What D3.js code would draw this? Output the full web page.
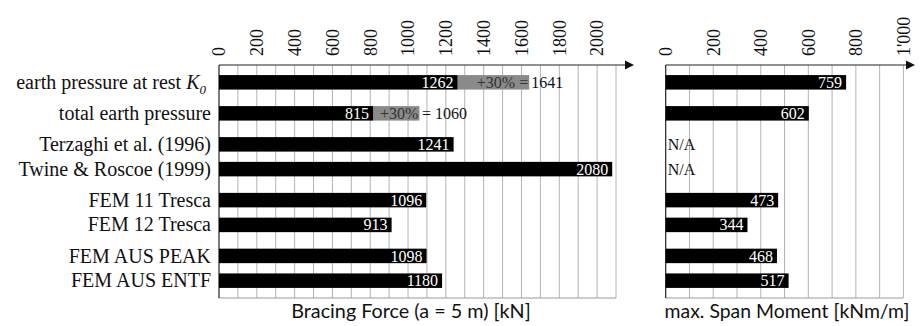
<!DOCTYPE html>
<html>
<head>
<meta charset="utf-8">
<script src="https://cdn.jsdelivr.net/npm/d3@7"></script>
<style>
  html, body { margin: 0; padding: 0; background: #fff; }
  svg { display: block; }
</style>
</head>
<body>
<svg id="chart" width="923" height="326"></svg>
<script>
// Categories, in drawing order, and the group each belongs to (groups sit slightly apart)
const categories = [
  "earth pressure at rest",
  "total earth pressure",
  "Terzaghi et al. (1996)",
  "Twine & Roscoe (1999)",
  "FEM 11 Tresca",
  "FEM 12 Tresca",
  "FEM AUS PEAK",
  "FEM AUS ENTF"
];
const categoryGroup = [0, 1, 2, 2, 3, 3, 4, 4];

// Bracing force [kN] and the value with the +30% allowance added
const bracingForce = [1262, 815, 1241, 2080, 1096, 913, 1098, 1180];
const bracingWithAllowance = [1641, 1060, null, null, null, null, null, null];
const allowanceLabel = "+30%";

// Maximum span moment [kNm/m]; null means not available
const spanMoment = [759, 602, null, null, 473, 344, 468, 517];

// Axis ticks
const forceTicks = [0, 200, 400, 600, 800, 1000, 1200, 1400, 1600, 1800, 2000];
const forceTickLabels = ["0", "200", "400", "600", "800", "1000", "1200", "1400", "1600", "1800", "2000"];
const momentTicks = [0, 200, 400, 600, 800, 1000];
const momentTickLabels = ["0", "200", "400", "600", "800", "1'000"];

const forceTitle = "Bracing Force (a = 5 m) [kN]";
const momentTitle = "max. Span Moment [kNm/m]";

const serif = "'Liberation Serif', 'Times New Roman', serif";
const sans = "Lato, 'Open Sans', sans-serif";

const svg = d3.select("#chart");

// Vertical layout: one slot per bar plus a small extra gap between groups
const groupGap = 0.2525;
const slot = categories.map((c, i) => i + categoryGroup[i] * groupGap);
const plotTop = 65, plotBottom = 298;
const y = d3.scaleLinear()
  .domain([-0.7, d3.max(slot) + 0.7])
  .range([plotTop, plotBottom]);
const barH = 14.5;

const xForce = d3.scaleLinear().domain([0, 2100]).range([219, 616]);
const xMoment = d3.scaleLinear().domain([0, 1000]).range([665.7, 903.4]);

function drawFrame(x, gridStep, tickVals, tickLabels, arrowTip) {
  const [d0, d1] = x.domain();
  const g = svg.append("g");
  // vertical grid
  g.selectAll("line.grid")
    .data(d3.range(d0 + gridStep, d1 + 0.001, gridStep))
    .join("line")
    .attr("x1", d => x(d)).attr("x2", d => x(d))
    .attr("y1", plotTop).attr("y2", plotBottom)
    .attr("stroke", "#b4b4b4").attr("stroke-width", 1);
  // bottom edge
  g.append("line")
    .attr("x1", x(d0)).attr("x2", x(d1))
    .attr("y1", plotBottom).attr("y2", plotBottom)
    .attr("stroke", "#9a9a9a").attr("stroke-width", 1);
  // zero line
  g.append("line")
    .attr("x1", x(d0)).attr("x2", x(d0))
    .attr("y1", plotTop).attr("y2", plotBottom)
    .attr("stroke", "#222").attr("stroke-width", 1.2);
  // top axis with arrow head
  g.append("line")
    .attr("x1", x(d0)).attr("x2", arrowTip - 7)
    .attr("y1", plotTop).attr("y2", plotTop)
    .attr("stroke", "#222").attr("stroke-width", 1.2);
  g.append("path")
    .attr("d", `M${arrowTip},${plotTop} L${arrowTip - 9},${plotTop - 4.5} L${arrowTip - 9},${plotTop + 4.5} Z`)
    .attr("fill", "#111");
  // rotated tick labels above the axis
  g.selectAll("text.tick")
    .data(tickVals)
    .join("text")
    .attr("transform", d => `translate(${x(d)},${plotTop - 9}) rotate(-90)`)
    .attr("dy", "0.35em")
    .attr("text-anchor", "start")
    .attr("font-family", serif)
    .attr("font-size", 18)
    .attr("fill", "#111")
    .text((d, i) => tickLabels[i]);
}

drawFrame(xForce, 100, forceTicks, forceTickLabels, 634);
drawFrame(xMoment, 100, momentTicks, momentTickLabels, 915);

// Category labels
const labels = svg.append("g")
  .attr("font-family", serif)
  .attr("font-size", 20)
  .attr("fill", "#111")
  .attr("text-anchor", "end");
categories.forEach((c, i) => {
  const t = labels.append("text")
    .attr("x", i === 0 ? 206 : 211)
    .attr("y", y(slot[i]))
    .attr("dy", "0.33em");
  t.append("tspan").text(c);
  if (i === 0) {
    t.append("tspan").text(" ");
    t.append("tspan").attr("font-style", "italic").text("K");
    t.append("tspan").attr("font-style", "italic").attr("font-size", 13)
      .attr("dy", "5").text("0");
  }
});

// Allowance segments (+30%) behind the labels
const allowRows = categories.map((c, i) => i).filter(i => bracingWithAllowance[i] != null);
svg.append("g").selectAll("rect")
  .data(allowRows)
  .join("rect")
  .attr("x", i => xForce(bracingForce[i]))
  .attr("width", i => xForce(bracingWithAllowance[i]) - xForce(bracingForce[i]))
  .attr("y", i => y(slot[i]) - barH / 2)
  .attr("height", barH)
  .attr("fill", "#8a8a8a");

// Bracing force bars
const forceRows = categories.map((c, i) => i);
svg.append("g").selectAll("rect")
  .data(forceRows)
  .join("rect")
  .attr("x", xForce(0))
  .attr("width", i => xForce(bracingForce[i]) - xForce(0))
  .attr("y", i => y(slot[i]) - barH / 2)
  .attr("height", barH)
  .attr("fill", "#000");

svg.append("g").selectAll("text")
  .data(forceRows)
  .join("text")
  .attr("x", i => xForce(bracingForce[i]) - 4)
  .attr("y", i => y(slot[i]))
  .attr("dy", "0.35em")
  .attr("text-anchor", "end")
  .attr("font-family", serif)
  .attr("font-size", 16)
  .attr("fill", "#fff")
  .text(i => bracingForce[i]);

// Allowance labels: "+30% =" inside the grey segment when it fits, otherwise "=" moves outside
const allowG = svg.append("g").attr("font-family", serif).attr("font-size", 16);
allowRows.forEach(i => {
  const x0 = xForce(bracingForce[i]);
  const x1 = xForce(bracingWithAllowance[i]);
  const cy = y(slot[i]);
  const probe = allowG.append("text").text(allowanceLabel + " =");
  const fits = probe.node().getComputedTextLength() + 4 <= (x1 - x0);
  probe.remove();
  allowG.append("text")
    .attr("x", x1 - 1).attr("y", cy).attr("dy", "0.35em")
    .attr("text-anchor", "end").attr("fill", "#333")
    .text(fits ? allowanceLabel + " =" : allowanceLabel);
  allowG.append("text")
    .attr("x", x1 + (fits ? 2 : 2.5)).attr("y", cy).attr("dy", "0.35em")
    .attr("text-anchor", "start").attr("fill", "#111")
    .text((fits ? "" : "= ") + bracingWithAllowance[i]);
});

// Span moment bars
const momentRows = categories.map((c, i) => i);
svg.append("g").selectAll("rect")
  .data(momentRows.filter(i => spanMoment[i] != null))
  .join("rect")
  .attr("x", xMoment(0))
  .attr("width", i => xMoment(spanMoment[i]) - xMoment(0))
  .attr("y", i => y(slot[i]) - barH / 2)
  .attr("height", barH)
  .attr("fill", "#000");

svg.append("g").selectAll("text")
  .data(momentRows)
  .join("text")
  .attr("x", i => spanMoment[i] != null ? xMoment(spanMoment[i]) - 4 : xMoment(0) + 2)
  .attr("y", i => y(slot[i]))
  .attr("dy", "0.35em")
  .attr("text-anchor", i => spanMoment[i] != null ? "end" : "start")
  .attr("font-family", serif)
  .attr("font-size", 16)
  .attr("fill", i => spanMoment[i] != null ? "#fff" : "#111")
  .text(i => spanMoment[i] != null ? spanMoment[i] : "N/A");

// Axis titles
svg.append("text")
  .attr("x", 411).attr("y", 318)
  .attr("text-anchor", "middle")
  .attr("font-family", sans).attr("font-size", 19.8).attr("fill", "#111")
  .text(forceTitle);
svg.append("text")
  .attr("x", 787).attr("y", 318)
  .attr("text-anchor", "middle")
  .attr("font-family", sans).attr("font-size", 19.4).attr("fill", "#111")
  .text(momentTitle);
</script>
</body>
</html>
